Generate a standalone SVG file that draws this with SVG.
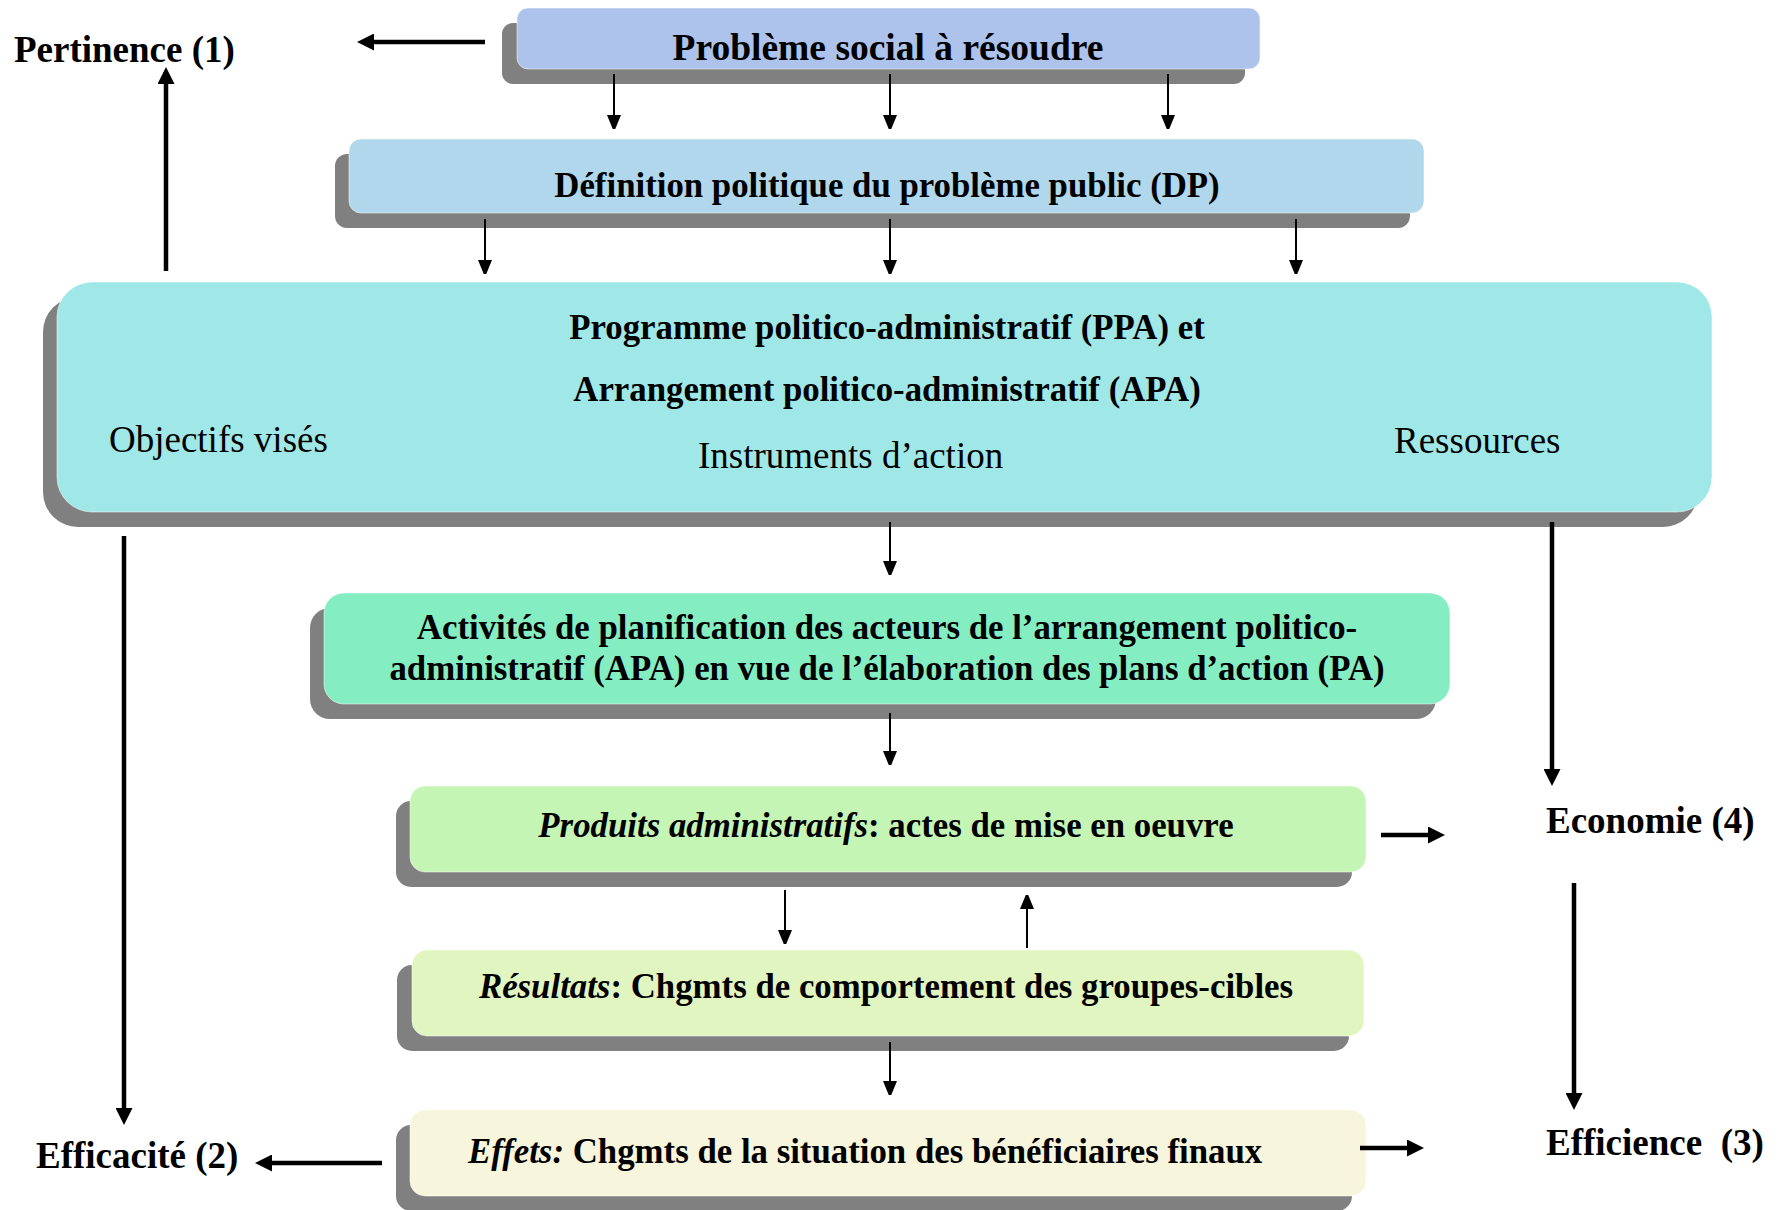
<svg xmlns="http://www.w3.org/2000/svg" width="1783" height="1210" viewBox="0 0 1783 1210">
<style>
.t{font-family:"Liberation Serif","Times New Roman",serif;font-size:37px;fill:#000}
.s{font-size:34.8px}
.b{font-weight:bold}
.i{font-style:italic}
.m{text-anchor:middle}
.sh{fill:#808080}
.thin{stroke:#000;stroke-width:2;fill:none}
.thick{stroke:#000;stroke-width:4.5;fill:none}
.box{stroke:#ffffff;stroke-opacity:0.5;stroke-width:1}
</style>
<defs>
<marker id="ah" viewBox="0 0 14 17" refX="0" refY="8.5" markerWidth="14" markerHeight="17" markerUnits="userSpaceOnUse" orient="auto">
<path d="M0,0 L17,7 L0,14 z" transform="translate(0,1.5)"/>
</marker>
<marker id="ahT" viewBox="0 0 17 17" refX="0" refY="8.5" markerWidth="17" markerHeight="17" markerUnits="userSpaceOnUse" orient="auto">
<path d="M0,0 L17,8.5 L0,17 z"/>
</marker>
</defs>
<rect width="1783" height="1210" fill="#ffffff"/>

<g id="probleme">
<rect class="sh" x="502" y="23" width="743" height="61" rx="11"/>
<rect class="box" x="517" y="8" width="743" height="61" rx="11" fill="#AEC3EC"/>
<text class="t b m" x="888" y="60" style="font-size:37.5px">Problème social à résoudre</text>
</g>

<g id="definition">
<rect class="sh" x="335" y="154" width="1075" height="74" rx="12"/>
<rect class="box" x="349" y="139" width="1075" height="74" rx="12" fill="#B0D7EB"/>
<text class="t s b m" x="887" y="197">Définition politique du problème public (DP)</text>
</g>

<g id="ppa">
<rect class="sh" x="43" y="297" width="1655" height="230" rx="35"/>
<rect class="box" x="57" y="282" width="1655" height="230" rx="35" fill="#A0E7E7"/>
<text class="t s b m" x="887" y="339">Programme politico-administratif (PPA) et</text>
<text class="t s b m" x="887" y="401">Arrangement politico-administratif (APA)</text>
<text class="t" x="109" y="452">Objectifs visés</text>
<text class="t" x="698" y="468">Instruments d’action</text>
<text class="t" x="1394" y="453">Ressources</text>
</g>

<g id="activites">
<rect class="sh" x="310" y="608" width="1126" height="111" rx="20"/>
<rect class="box" x="324" y="593" width="1126" height="111" rx="20" fill="#85EDC2"/>
<text class="t s b m" x="887" y="639">Activités de planification des acteurs de l’arrangement politico-</text>
<text class="t s b m" x="887" y="680">administratif (APA) en vue de l’élaboration des plans d’action (PA)</text>
</g>

<g id="produits">
<rect class="sh" x="396" y="801" width="956" height="86" rx="15"/>
<rect class="box" x="410" y="786" width="956" height="86" rx="15" fill="#C5F5B5"/>
<text class="t s b m" x="886" y="837"><tspan class="i">Produits administratifs</tspan>: actes de mise en oeuvre</text>
</g>

<g id="resultats">
<rect class="sh" x="397" y="965" width="952" height="86" rx="15"/>
<rect class="box" x="412" y="950" width="952" height="86" rx="15" fill="#E1F5C0"/>
<text class="t s b m" x="886" y="998"><tspan class="i">Résultats</tspan>: Chgmts de comportement des groupes-cibles</text>
</g>

<g id="effets">
<rect class="sh" x="396" y="1125" width="956" height="86" rx="15"/>
<rect class="box" x="410" y="1110" width="956" height="86" rx="15" fill="#F8F5DD"/>
<text class="t s b" x="468" y="1163"><tspan class="i">Effets:</tspan> Chgmts de la situation des bénéficiaires finaux</text>
</g>

<g id="pertinence"><text class="t b" x="14" y="62">Pertinence (1)</text></g>
<g id="efficacite"><text class="t b" x="36" y="1168">Efficacité (2)</text></g>
<g id="economie"><text class="t b" x="1546" y="833">Economie (4)</text></g>
<g id="efficience"><text class="t b" x="1546" y="1155">Efficience&#160; (3)</text></g>

<g id="connectors">
<line class="thin" x1="614" y1="74" x2="614" y2="115" marker-end="url(#ah)"/>
<line class="thin" x1="890" y1="74" x2="890" y2="115" marker-end="url(#ah)"/>
<line class="thin" x1="1168" y1="74" x2="1168" y2="115" marker-end="url(#ah)"/>
<line class="thin" x1="485" y1="219" x2="485" y2="260" marker-end="url(#ah)"/>
<line class="thin" x1="890" y1="219" x2="890" y2="260" marker-end="url(#ah)"/>
<line class="thin" x1="1296" y1="219" x2="1296" y2="260" marker-end="url(#ah)"/>
<line class="thin" x1="890" y1="522" x2="890" y2="561" marker-end="url(#ah)"/>
<line class="thin" x1="890" y1="713" x2="890" y2="751" marker-end="url(#ah)"/>
<line class="thin" x1="785" y1="890" x2="785" y2="930" marker-end="url(#ah)"/>
<line class="thin" x1="1027" y1="948" x2="1027" y2="909" marker-end="url(#ah)"/>
<line class="thin" x1="890" y1="1042" x2="890" y2="1081" marker-end="url(#ah)"/>
<line class="thick" x1="485" y1="42" x2="374" y2="42" marker-end="url(#ahT)"/>
<line class="thick" x1="166" y1="271" x2="166" y2="84" marker-end="url(#ahT)"/>
<line class="thick" x1="124" y1="536" x2="124" y2="1108" marker-end="url(#ahT)"/>
<line class="thick" x1="1552" y1="522" x2="1552" y2="769" marker-end="url(#ahT)"/>
<line class="thick" x1="1574" y1="883" x2="1574" y2="1093" marker-end="url(#ahT)"/>
<line class="thick" x1="1381" y1="835" x2="1428" y2="835" marker-end="url(#ahT)"/>
<line class="thick" x1="1360" y1="1148" x2="1407" y2="1148" marker-end="url(#ahT)"/>
<line class="thick" x1="382" y1="1163" x2="272" y2="1163" marker-end="url(#ahT)"/>
</g>
</svg>
